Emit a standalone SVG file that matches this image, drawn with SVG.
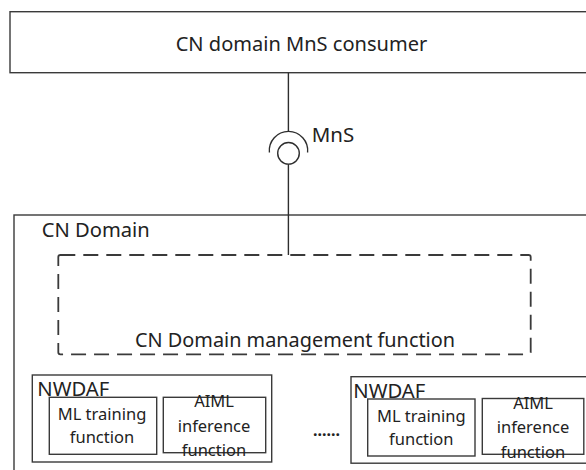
<svg xmlns="http://www.w3.org/2000/svg" width="586" height="470" viewBox="0 0 586 470">
<style>
.box{fill:#fff;stroke:#3a3a3a;stroke-width:1.4}
.dash{fill:none;stroke:#3a3a3a;stroke-width:1.8;stroke-dasharray:15 8}
.ln{fill:none;stroke:#2e2e2e;stroke-width:1.4}
.t{font-family:"Noto Sans","Open Sans","DejaVu Sans",sans-serif;fill:#222}
.l{font-size:19px}
.s{font-size:16.5px;text-anchor:middle}
</style>
<rect width="586" height="470" fill="#fff"/>
<g id="consumer">
<rect class="box" x="10" y="11.7" width="590" height="61"/>
<text class="t l" x="175.7" y="50.7" textLength="251.6" lengthAdjust="spacingAndGlyphs">CN domain MnS consumer</text>
</g>
<g id="cn-domain">
<rect class="box" x="14" y="215" width="590" height="270"/>
<text class="t l" x="41.7" y="237" textLength="108" lengthAdjust="spacingAndGlyphs">CN Domain</text>
</g>
<g id="mgmt-function">
<rect class="dash" x="58.3" y="255" width="472.4" height="99.3" rx="2"/>
<text class="t l" x="135" y="346.7" textLength="320" lengthAdjust="spacingAndGlyphs">CN Domain management function</text>
</g>
<g id="nwdaf1">
<rect class="box" x="32.3" y="375" width="239.4" height="87"/>
<text class="t l" x="37.3" y="396" textLength="72" lengthAdjust="spacingAndGlyphs">NWDAF</text>
<g id="ml-training-1">
<rect class="box" x="49.3" y="397.3" width="107.4" height="57"/>
<text class="t s" x="102" y="420">ML training</text>
<text class="t s" x="102" y="442.7">function</text>
</g>
<g id="aiml-inference-1">
<rect class="box" x="163.3" y="397.3" width="102.4" height="55.4" style="fill:none"/>
<text class="t s" x="214" y="407">AIML</text>
<text class="t s" x="214" y="431.7">inference</text>
<text class="t s" x="214" y="456">function</text>
</g>
</g>
<g id="ellipsis">
<text class="t" x="313" y="436" font-size="16" font-weight="bold" textLength="27" lengthAdjust="spacingAndGlyphs">......</text>
</g>
<g id="nwdaf2">
<rect class="box" x="351" y="376.7" width="260" height="86.5"/>
<text class="t l" x="353.3" y="397.7" textLength="72" lengthAdjust="spacingAndGlyphs">NWDAF</text>
<g id="ml-training-2">
<rect class="box" x="367.7" y="399" width="107.3" height="57"/>
<text class="t s" x="421.3" y="421.5">ML training</text>
<text class="t s" x="421.3" y="444.5">function</text>
</g>
<g id="aiml-inference-2">
<rect class="box" x="482.3" y="398.5" width="101.5" height="55.8" style="fill:none"/>
<text class="t s" x="533" y="408.5">AIML</text>
<text class="t s" x="533" y="433.3">inference</text>
<text class="t s" x="533" y="457.5">function</text>
</g>
</g>
<g id="connectors">
<line class="ln" x1="288.4" y1="72.7" x2="288.4" y2="131"/>
<path class="ln" d="M269.4,152.5 A19.2,19.2 0 1 1 307.6,152.5"/>
<circle class="ln" cx="288.5" cy="153.3" r="10.8"/>
<line class="ln" x1="288.4" y1="164.1" x2="288.4" y2="255"/>
<text class="t l" x="311.7" y="141.7" textLength="42.5" lengthAdjust="spacingAndGlyphs">MnS</text>
</g>
</svg>
